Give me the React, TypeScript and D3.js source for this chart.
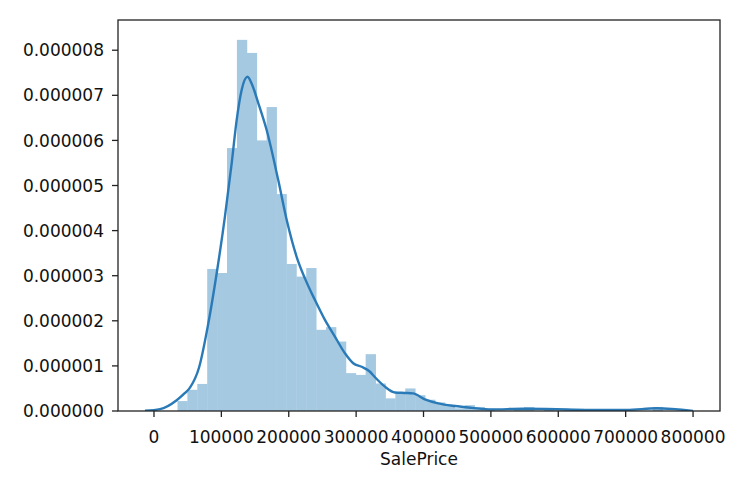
import React from 'react';
import * as d3 from 'd3';

// Histogram: 49 equal bins between min and max SalePrice, density values (x 1e-6)
const binMin = 34900;
const binMax = 755000;
const histDensity = [
  0.22, 0.47, 0.6, 3.15, 3.06, 5.83, 8.23, 7.94, 6.0, 6.74,
  4.81, 3.26, 2.98, 3.17, 1.8, 1.86, 1.54, 0.84, 0.8, 1.26,
  0.61, 0.28, 0.42, 0.5, 0.35, 0.25, 0.19, 0.14, 0.06, 0.13,
  0.09, 0.05, 0, 0, 0.05, 0.09, 0, 0.05, 0, 0.05,
  0.05, 0, 0, 0, 0, 0, 0, 0, 0.09,
];

// KDE curve (x in price, y x 1e-6)
const kdeX = [
  -13400, 8900, 33700, 46000, 53400, 67000, 80600, 93000, 105300, 115300,
  122700, 130100, 138700, 145800, 154300, 167200, 184400, 196900, 211700, 224000,
  238900, 253700, 268500, 283400, 295700, 308200, 320500, 327900, 342700, 357600,
  372400, 384300, 402000, 421800, 446600, 471800, 501000, 547500, 597500, 636500,
  701300, 745800, 800000,
];
const kdeY = [
  0.005, 0.04, 0.24, 0.4, 0.52, 0.97, 1.94, 3.05, 4.31, 5.49,
  6.45, 7.12, 7.41, 7.23, 6.85, 6.23, 5.12, 4.24, 3.42, 2.94,
  2.46, 2.02, 1.65, 1.28, 1.06, 0.98, 0.87, 0.75, 0.54, 0.41,
  0.4, 0.39, 0.26, 0.17, 0.11, 0.07, 0.035, 0.05, 0.04, 0.025,
  0.025, 0.06, 0.003,
];

const xTicks = [0, 100000, 200000, 300000, 400000, 500000, 600000, 700000, 800000];
const yTicks = [0, 1e-6, 2e-6, 3e-6, 4e-6, 5e-6, 6e-6, 7e-6, 8e-6];
const xLabel = 'SalePrice';

export default function App() {
  const W = 754;
  const H = 488;
  const L = 118, R = 720, T = 20, B = 411;
  const x = d3.scaleLinear().domain([-53400, 840000]).range([L, R]);
  const y = d3.scaleLinear().domain([0, 8.67e-6]).range([B, T]);
  const binW = (binMax - binMin) / histDensity.length;
  const font = '"DejaVu Sans", sans-serif';
  const fs = 17;

  const kdePts: [number, number][] = kdeX.map((v, i) => [v, kdeY[i] * 1e-6]);
  const line = d3
    .line<[number, number]>()
    .x((d) => x(d[0]))
    .y((d) => y(d[1]))
    .curve(d3.curveMonotoneX);

  return (
    <svg
      width={W}
      height={H}
      style={{ position: 'absolute', left: 0, top: 0, background: '#fff' }}
    >
      <rect x={0} y={0} width={W} height={H} fill="#fff" />
      <defs>
        <clipPath id="ax">
          <rect x={L} y={T} width={R - L} height={B - T} />
        </clipPath>
      </defs>
      <g clipPath="url(#ax)">
        {histDensity.map((d, i) => {
          const x0 = x(binMin + i * binW);
          const x1 = x(binMin + (i + 1) * binW);
          const y0 = y(d * 1e-6);
          return (
            <rect
              key={i}
              x={x0}
              y={y0}
              width={x1 - x0 + 0.4}
              height={Math.max(0, B - y0)}
              fill="#a5c9e1"
            />
          );
        })}
        <path d={line(kdePts) || ''} fill="none" stroke="#2a7ab8" strokeWidth={2.4} />
      </g>
      {/* spines */}
      <rect x={L} y={T} width={R - L} height={B - T} fill="none" stroke="#222" strokeWidth={1.3} />
      {/* x ticks */}
      {xTicks.map((t) => (
        <g key={'x' + t}>
          <line x1={x(t)} x2={x(t)} y1={B} y2={B + 6} stroke="#222" strokeWidth={1.3} />
          <text
            x={x(t)}
            y={B + 32}
            textAnchor="middle"
            fontFamily={font}
            fontSize={fs}
            fill="#111"
          >
            {String(t)}
          </text>
        </g>
      ))}
      {/* y ticks */}
      {yTicks.map((t) => (
        <g key={'y' + t}>
          <line x1={L - 6} x2={L} y1={y(t)} y2={y(t)} stroke="#222" strokeWidth={1.3} />
          <text
            x={L - 14}
            y={y(t)}
            dy="0.36em"
            textAnchor="end"
            fontFamily={font}
            fontSize={fs}
            fill="#111"
          >
            {t.toFixed(6)}
          </text>
        </g>
      ))}
      <text
        x={(L + R) / 2}
        y={465}
        textAnchor="middle"
        fontFamily={font}
        fontSize={fs}
        fill="#111"
      >
        {xLabel}
      </text>
    </svg>
  );
}
